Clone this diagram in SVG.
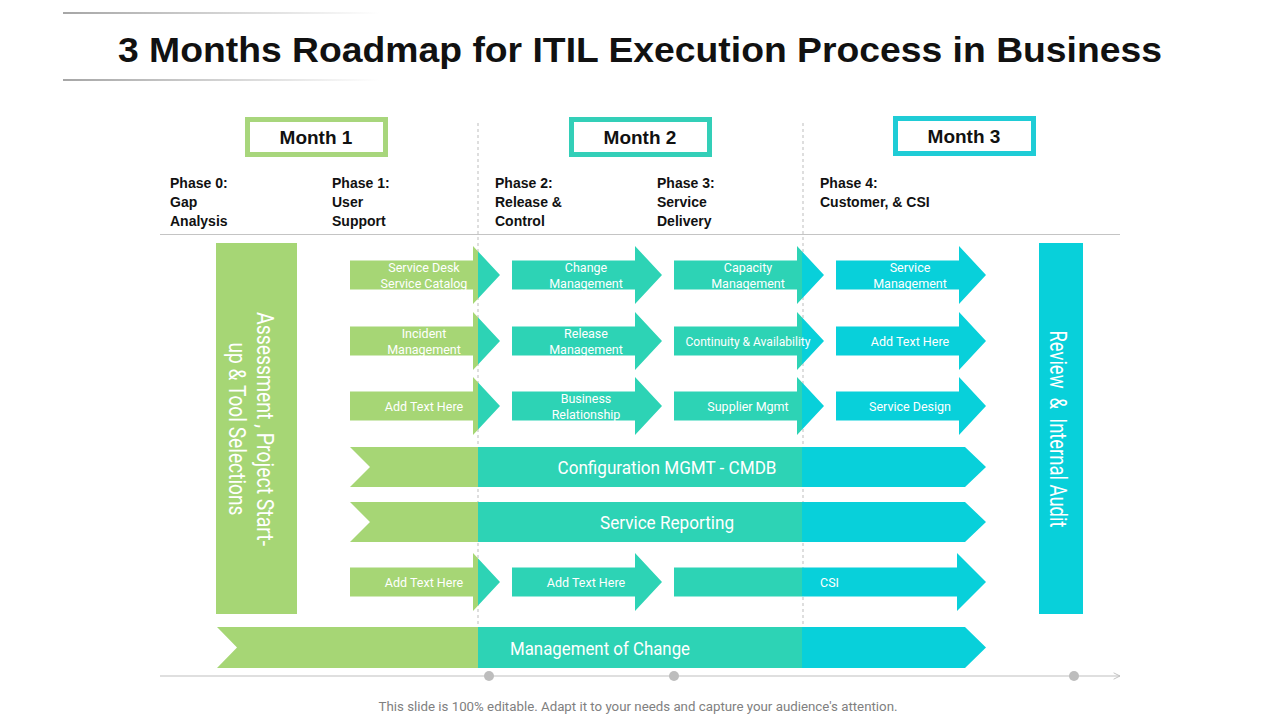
<svg xmlns="http://www.w3.org/2000/svg" width="1280" height="720" viewBox="0 0 1280 720">
<defs>
<linearGradient id="fadeLine" gradientUnits="userSpaceOnUse" x1="63" y1="0" x2="380" y2="0">
<stop offset="0" stop-color="#a6a6a6"/>
<stop offset="1" stop-color="#ffffff"/>
</linearGradient>
<pattern id="cols" patternUnits="userSpaceOnUse" x="0" y="0" width="1280" height="720">
<rect x="0" y="0" width="478" height="720" fill="#A6D675"/>
<rect x="478" y="0" width="324" height="720" fill="#2DD3B5"/>
<rect x="802" y="0" width="478" height="720" fill="#08D0DA"/>
</pattern>
<marker id="tl" viewBox="0 0 10 10" refX="9" refY="5" markerWidth="8" markerHeight="8" orient="auto" markerUnits="userSpaceOnUse">
<path d="M1,1 L9,5 L1,9" fill="none" stroke="#c0c0c0" stroke-width="1.2"/>
</marker>
</defs>
<style>
.title{font-family:"Liberation Sans",Arial,sans-serif;font-weight:bold;font-size:35px;fill:#111}
.month{font-family:"Liberation Sans",Arial,sans-serif;font-weight:bold;font-size:19px;fill:#111;text-anchor:middle}
.phase{font-family:"Liberation Sans",Arial,sans-serif;font-weight:bold;font-size:14px;fill:#111}
.fill{fill:url(#cols)}
.at{font-family:Roboto,"Liberation Sans",sans-serif;font-size:12.5px;fill:#fff;text-anchor:middle}
.bt{font-family:Roboto,"Liberation Sans",sans-serif;font-size:18px;fill:#fff;text-anchor:middle}
.vt{font-family:Roboto,"Liberation Sans",sans-serif;font-size:23px;fill:#fff;text-anchor:middle}
.pre{white-space:pre}
.dash{stroke:#bdbdbd;stroke-width:1;stroke-dasharray:3 3;fill:none}
.foot{font-family:Roboto,"Liberation Sans",sans-serif;font-size:12px;fill:#808080;text-anchor:middle}
</style>
<rect width="1280" height="720" fill="#ffffff"/>

<g id="header">
<rect x="63" y="12" width="317" height="2" fill="url(#fadeLine)"/>
<rect x="63" y="79" width="317" height="2" fill="url(#fadeLine)"/>
<text class="title" x="640" y="62" text-anchor="middle" textLength="1044" lengthAdjust="spacingAndGlyphs">3 Months Roadmap for ITIL Execution Process in Business</text>
</g>

<g id="guides">
<line class="dash" x1="478" y1="123" x2="478" y2="668"/>
<line class="dash" x1="803" y1="123" x2="803" y2="668"/>
<line x1="160" y1="234.5" x2="1120" y2="234.5" stroke="#c4c4c4" stroke-width="1.2"/>
</g>

<g id="month1">
<rect x="247.5" y="119.5" width="138" height="35" fill="#fff" stroke="#A8D67C" stroke-width="5"/>
<text class="month" x="316" y="144">Month 1</text>
</g>
<g id="month2">
<rect x="571.5" y="119.5" width="138" height="35" fill="#fff" stroke="#33CFB8" stroke-width="5"/>
<text class="month" x="640" y="144">Month 2</text>
</g>
<g id="month3">
<rect x="895.5" y="118.5" width="138" height="35" fill="#fff" stroke="#1FCCD6" stroke-width="5"/>
<text class="month" x="964" y="143">Month 3</text>
</g>

<g id="phases">
<text class="phase" x="170" y="188">Phase 0:<tspan x="170" y="207">Gap</tspan><tspan x="170" y="226">Analysis</tspan></text>
<text class="phase" x="332" y="188">Phase 1:<tspan x="332" y="207">User</tspan><tspan x="332" y="226">Support</tspan></text>
<text class="phase" x="495" y="188">Phase 2:<tspan x="495" y="207">Release &amp;</tspan><tspan x="495" y="226">Control</tspan></text>
<text class="phase" x="657" y="188">Phase 3:<tspan x="657" y="207">Service</tspan><tspan x="657" y="226">Delivery</tspan></text>
<text class="phase" x="820" y="188">Phase 4:<tspan x="820" y="207">Customer, &amp; CSI</tspan></text>
</g>

<g id="assessment">
<rect class="fill" x="216" y="243" width="81" height="371"/>
<text class="vt" transform="translate(257,429) rotate(90)"><tspan x="0" y="0" textLength="234" lengthAdjust="spacingAndGlyphs">Assessment , Project Start-</tspan><tspan x="0" y="28" textLength="173" lengthAdjust="spacingAndGlyphs">up &amp; Tool Selections</tspan></text>
</g>

<g id="review">
<rect class="fill" x="1039" y="243" width="44" height="371"/>
<text class="vt pre" transform="translate(1050,429) rotate(90)" textLength="197" lengthAdjust="spacingAndGlyphs">Review  &amp;  Internal Audit</text>
</g>

<g id="connectors">
<g id="a-service-desk">
<path class="fill" d="M350,260.5 H473 V246 L500,275 L473,304 V289.5 H350 Z"/>
<text class="at" x="424" y="272">Service Desk</text>
<text class="at" x="424" y="288">Service Catalog</text>
</g>
<g id="a-change-mgmt">
<path class="fill" d="M512,260.5 H635 V246 L662,275 L635,304 V289.5 H512 Z"/>
<text class="at" x="586" y="272">Change</text>
<text class="at" x="586" y="288">Management</text>
</g>
<g id="a-capacity">
<path class="fill" d="M674,260.5 H797 V246 L824,275 L797,304 V289.5 H674 Z"/>
<text class="at" x="748" y="272">Capacity</text>
<text class="at" x="748" y="288">Management</text>
</g>
<g id="a-service-mgmt">
<path class="fill" d="M836,260.5 H959 V246 L986,275 L959,304 V289.5 H836 Z"/>
<text class="at" x="910" y="272">Service</text>
<text class="at" x="910" y="288">Management</text>
</g>
<g id="a-incident">
<path class="fill" d="M350,326.5 H473 V312 L500,341 L473,370 V355.5 H350 Z"/>
<text class="at" x="424" y="338">Incident</text>
<text class="at" x="424" y="354">Management</text>
</g>
<g id="a-release">
<path class="fill" d="M512,326.5 H635 V312 L662,341 L635,370 V355.5 H512 Z"/>
<text class="at" x="586" y="338">Release</text>
<text class="at" x="586" y="354">Management</text>
</g>
<g id="a-continuity">
<path class="fill" d="M674,326.5 H797 V312 L824,341 L797,370 V355.5 H674 Z"/>
<text class="at" x="748" y="346" textLength="125" lengthAdjust="spacingAndGlyphs">Continuity &amp; Availability</text>
</g>
<g id="a-add-text-r2">
<path class="fill" d="M836,326.5 H959 V312 L986,341 L959,370 V355.5 H836 Z"/>
<text class="at" x="910" y="346">Add Text Here</text>
</g>
<g id="a-add-text-r3">
<path class="fill" d="M350,391.5 H473 V377 L500,406 L473,435 V420.5 H350 Z"/>
<text class="at" x="424" y="411">Add Text Here</text>
</g>
<g id="a-business">
<path class="fill" d="M512,391.5 H635 V377 L662,406 L635,435 V420.5 H512 Z"/>
<text class="at" x="586" y="403">Business</text>
<text class="at" x="586" y="419">Relationship</text>
</g>
<g id="a-supplier">
<path class="fill" d="M674,391.5 H797 V377 L824,406 L797,435 V420.5 H674 Z"/>
<text class="at" x="748" y="411">Supplier Mgmt</text>
</g>
<g id="a-service-design">
<path class="fill" d="M836,391.5 H959 V377 L986,406 L959,435 V420.5 H836 Z"/>
<text class="at" x="910" y="411">Service Design</text>
</g>
<g id="b-config">
<path class="fill" d="M350,447 H965 L986,467 L965,487 H350 L370,467 Z"/>
<text class="bt" x="667" y="474" textLength="219" lengthAdjust="spacingAndGlyphs">Configuration MGMT - CMDB</text>
</g>
<g id="b-reporting">
<path class="fill" d="M350,502 H965 L986,522 L965,542 H350 L370,522 Z"/>
<text class="bt" x="667" y="529" textLength="134" lengthAdjust="spacingAndGlyphs">Service Reporting</text>
</g>
<g id="a-add-text-r4a">
<path class="fill" d="M350,567.5 H473 V553 L500,582 L473,611 V596.5 H350 Z"/>
<text class="at" x="424" y="587">Add Text Here</text>
</g>
<g id="a-add-text-r4b">
<path class="fill" d="M512,567.5 H635 V553 L662,582 L635,611 V596.5 H512 Z"/>
<text class="at" x="586" y="587">Add Text Here</text>
</g>
<g id="a-csi">
<path class="fill" d="M674,567.5 H957 V553 L986,582 L957,611 V596.5 H674 Z"/>
<text class="at" x="820" y="587" style="text-anchor:start">CSI</text>
</g>
<g id="b-moc">
<path class="fill" d="M217,627 H965 L986,647.5 L965,668 H217 L237,647.5 Z"/>
<text class="bt" x="600" y="655" textLength="180" lengthAdjust="spacingAndGlyphs">Management of Change</text>
</g>
</g>

<g id="timeline">
<line x1="160" y1="676" x2="1120" y2="676" stroke="#c0c0c0" stroke-width="1.2" marker-end="url(#tl)"/>
<circle cx="489" cy="676" r="5" fill="#bdbdbd"/>
<circle cx="674" cy="676" r="5" fill="#bdbdbd"/>
<circle cx="1074" cy="676" r="5" fill="#bdbdbd"/>
</g>

<text class="foot" x="638" y="711" textLength="519" lengthAdjust="spacingAndGlyphs">This slide is 100% editable. Adapt it to your needs and capture your audience's attention.</text>
</svg>
